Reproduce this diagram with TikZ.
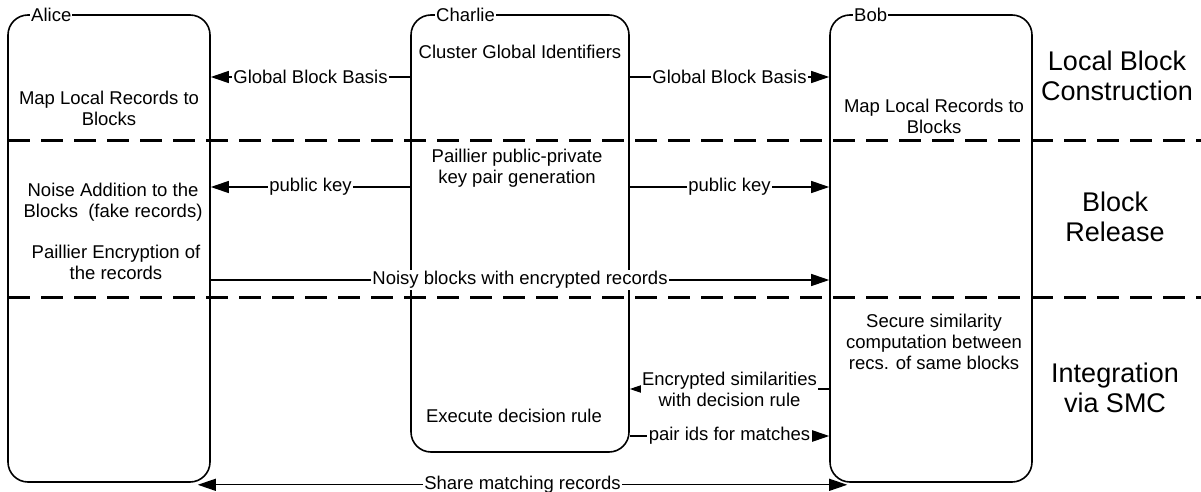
\documentclass[tikz,border=0pt]{standalone}
\usepackage{fontspec}
\setmainfont{Liberation Sans}
\usetikzlibrary{arrows.meta}
\begin{document}
\begin{tikzpicture}[x=1pt,y=-1pt,
  box/.style={draw, line width=1.6pt, rounded corners=20pt, inner sep=0pt},
  txt/.style={font=\fontsize{18.5}{21}\selectfont, align=center, inner sep=0pt},
  big/.style={font=\fontsize{27}{30}\selectfont, align=center, inner sep=0pt},
  who/.style={font=\fontsize{18.5}{21}\selectfont, fill=white, inner sep=1pt, anchor=west},
  tip/.style={Triangle[length=18pt,width=12pt]},
  msg/.style={line width=1.2pt, -{Triangle[length=18pt,width=12pt]}},
  lab/.style={font=\fontsize{18.5}{21}\selectfont, fill=white, inner sep=1.5pt, align=center, midway},
  sepline/.style={line width=3pt, dash pattern=on 22pt off 11pt}]
\useasboundingbox (0,0) rectangle (1201,492);

% swimlane boxes
\node[box, minimum width=202pt, minimum height=467pt] (alice) at (109,248.5) {};
\node[box, minimum width=218pt, minimum height=437pt] (charlie) at (520,233.5) {};
\node[box, minimum width=202pt, minimum height=467pt] (bob) at (931,248.5) {};

\node[who] (alicelbl) at (30,15) {Alice};
\node[who] (charlielbl) at (435,15) {Charlie};
\node[who] (boblbl) at (853,15) {Bob};

% phase separators
\draw[sepline] (8,140) -- (1201,140);
\draw[sepline] (8,297) -- (1201,297);

% texts inside boxes
\node[txt] (a1) at (109,108) {Map Local Records to\\Blocks};
\node[txt] (a2) at (113,202) {Noise Addition to the\\Blocks\ \ (fake records)};
\node[txt] (a3) at (116,262) {Paillier Encryption of\\the records};
\node[txt] (c1) at (520,52) {Cluster Global Identifiers};
\node[txt] (c2) at (517,168) {Paillier public-private\\key pair generation};
\node[txt] (c3) at (514,416) {Execute decision rule};
\node[txt] (b1) at (934,116) {Map Local Records to\\Blocks};
\node[txt] (b2) at (934,342) {Secure similarity\\computation between\\recs. of same blocks};

% phase names
\node[big] (p1) at (1117,76) {Local Block\\Construction};
\node[big] (p2) at (1115,217) {Block\\Release};
\node[big] (p3) at (1115,388) {Integration\\via SMC};

% messages
\draw[msg] (charlie.west |- 0,77) -- node[lab]{Global Block Basis} (alice.east |- 0,77);
\draw[msg] (charlie.east |- 0,77) -- node[lab]{Global Block Basis} (bob.west |- 0,77);
\draw[msg] (charlie.west |- 0,187) -- node[lab]{public key} (alice.east |- 0,187);
\draw[msg] (charlie.east |- 0,187) -- node[lab]{public key} (bob.west |- 0,187);
\draw[msg] (alice.east |- 0,280) -- node[lab]{Noisy blocks with encrypted records} (bob.west |- 0,280);
\draw[msg] (bob.west |- 0,389) -- node[lab]{Encrypted similarities\\with decision rule} (charlie.east |- 0,389);
\draw[msg] (charlie.east |- 0,436) -- node[lab]{pair ids for matches} (bob.west |- 0,436);
\draw[line width=1.2pt, {Triangle[length=18pt,width=12pt]}-{Triangle[length=18pt,width=12pt]}]
  ([xshift=-13pt,yshift=-2pt]alice.south east) -- node[lab]{Share matching records} ([xshift=18pt,yshift=-2pt]bob.south west);
\end{tikzpicture}
\end{document}
